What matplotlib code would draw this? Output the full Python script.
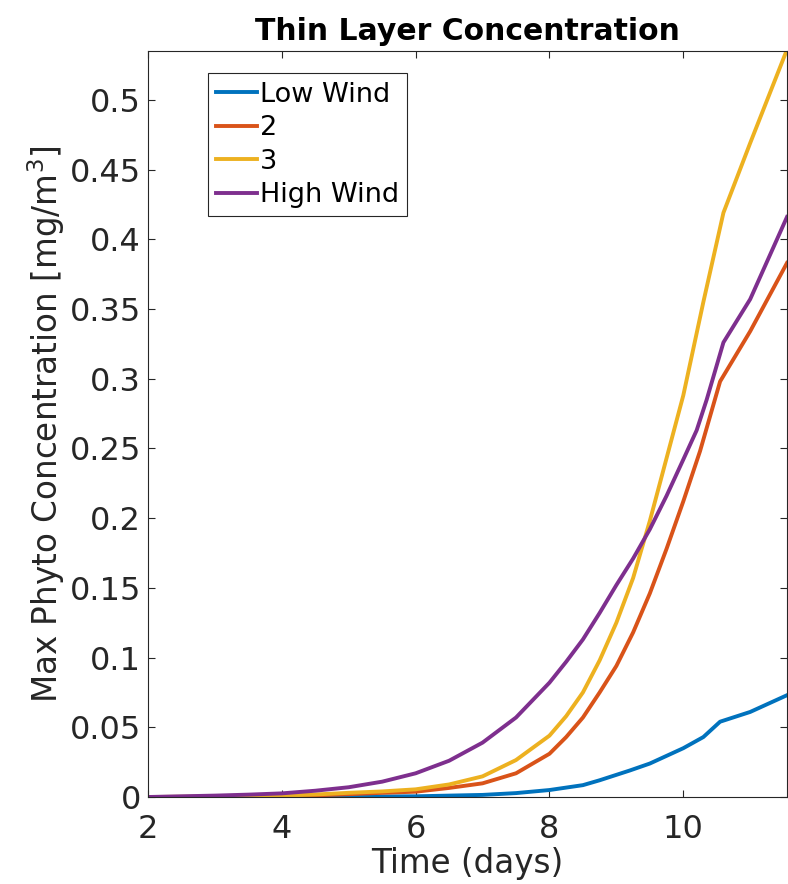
import matplotlib
matplotlib.use("Agg")
import matplotlib.pyplot as plt

# time axis (days) and peak concentration for each run
t_low = [2, 3, 4, 5, 6, 7, 7.5, 8, 8.5, 8.75, 9.2, 9.5, 10, 10.3, 10.55, 11, 11.55]
c_low = [0, 0.0001, 0.0002, 0.0003, 0.0005, 0.0015, 0.0028, 0.005, 0.0085,
         0.012, 0.019, 0.024, 0.035, 0.043, 0.054, 0.061, 0.073]

t_2 = [2, 3, 4, 4.5, 5, 5.5, 6, 6.5, 7, 7.5, 8, 8.25, 8.5, 8.75, 9, 9.25, 9.5,
       9.75, 10, 10.25, 10.55, 11, 11.55]
c_2 = [0, 0.0002, 0.0006, 0.0012, 0.002, 0.003, 0.0038, 0.0065, 0.0098, 0.017,
       0.031, 0.043, 0.057, 0.075, 0.094, 0.118, 0.146, 0.178, 0.212, 0.248,
       0.298, 0.334, 0.383]

t_3 = [2, 3, 4, 4.5, 5, 5.5, 6, 6.5, 7, 7.5, 8, 8.25, 8.5, 8.75, 9, 9.25, 9.5,
       9.75, 10, 10.3, 10.6, 11, 11.55]
c_3 = [0, 0.0003, 0.001, 0.0018, 0.003, 0.004, 0.0055, 0.009, 0.0148, 0.0265,
       0.044, 0.058, 0.075, 0.098, 0.125, 0.157, 0.198, 0.243, 0.288, 0.355,
       0.419, 0.469, 0.536]

t_high = [2, 2.5, 3, 3.5, 4, 4.5, 5, 5.5, 6, 6.5, 7, 7.5, 8, 8.25, 8.5, 8.75, 9,
          9.25, 9.5, 9.75, 10, 10.2, 10.35, 10.6, 11, 11.55]
c_high = [0, 0.0005, 0.001, 0.0017, 0.0026, 0.0045, 0.007, 0.011, 0.017, 0.026,
          0.039, 0.057, 0.082, 0.097, 0.113, 0.132, 0.152, 0.171, 0.192, 0.216,
          0.242, 0.263, 0.285, 0.326, 0.357, 0.416]

labels = ["Low Wind", "2", "3", "High Wind"]
colors = ["#0072BD", "#D95319", "#EDB120", "#7E2F8E"]

yticks = [0, 0.05, 0.1, 0.15, 0.2, 0.25, 0.3, 0.35, 0.4, 0.45, 0.5]
ytick_labels = ["0", "0.05", "0.1", "0.15", "0.2", "0.25", "0.3", "0.35", "0.4", "0.45", "0.5"]
xticks = [2, 4, 6, 8, 10]

plt.rcParams["font.family"] = ["DejaVu Sans"]
dark = "#262626"

fig = plt.figure(figsize=(7.88, 8.84), dpi=100)
ax = fig.add_axes([148 / 788, 87 / 884, 639 / 788, 746 / 884])

series = [(t_low, c_low), (t_2, c_2), (t_3, c_3), (t_high, c_high)]
for (t, c), lab, col in zip(series, labels, colors):
    ax.plot(t, c, color=col, lw=2.8, label=lab, solid_joinstyle="round")

ax.set_xlim(2, 11.55)
ax.set_ylim(0, 0.535)
ax.set_xticks(xticks)
ax.set_xticklabels([str(x) for x in xticks])
ax.set_yticks(yticks)
ax.set_yticklabels(ytick_labels)
ax.tick_params(direction="in", length=5, width=0.8, top=True, right=True,
               labelsize=23, colors=dark)
ax.tick_params(axis="y", pad=5)
ax.tick_params(axis="x", pad=12)
for sp in ax.spines.values():
    sp.set_color(dark)
    sp.set_linewidth(0.8)

ax.set_title("Thin Layer Concentration", fontsize=21.5, fontweight="bold", pad=8)
ax.set_xlabel("Time (days)", fontsize=23.5, color=dark, labelpad=2)
ax.set_ylabel("Max Phyto Concentration [mg/m$^3$]", fontsize=23.5, color=dark,
              labelpad=2)

leg = ax.legend(loc="upper left", bbox_to_anchor=(0.094, 0.97), fontsize=19.5,
                handlelength=1.5, handletextpad=0.1, borderpad=0.3,
                labelspacing=0.28, fancybox=False, framealpha=1,
                borderaxespad=0)
leg.get_frame().set_edgecolor(dark)
leg.get_frame().set_linewidth(0.8)

fig.savefig("out.png", dpi=100)
